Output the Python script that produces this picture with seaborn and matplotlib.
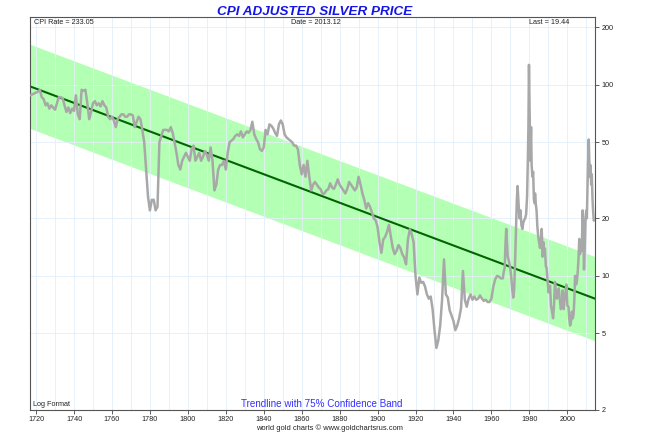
import numpy as np
import pandas as pd
import seaborn as sns
import matplotlib.pyplot as plt
from matplotlib.ticker import FixedLocator, NullLocator, FixedFormatter

# CPI adjusted silver price, yearly readings 1717-1965
annual_years = list(range(1717, 1966))
annual_prices = [
    88, 89, 90,
    91, 92, 94, 86, 84, 78, 80, 75, 78, 76,
    74, 80, 86, 86, 85, 78, 72, 76, 71, 75,
    73, 88, 70, 66, 94, 93, 94, 80, 66, 72,
    80, 82, 78, 80, 77, 82, 78, 76, 68, 66,
    68, 65, 60, 66, 68, 70, 70, 68, 68, 70,
    70, 69, 60, 64, 68, 66, 58, 50, 36, 26,
    22, 25, 25, 22, 23, 50, 54, 58, 58, 58,
    57, 60, 56, 50, 44, 38, 36, 40, 42, 44,
    42, 40, 46, 48, 40, 42, 44, 40, 42, 45,
    43, 40, 47, 40, 28, 30, 36, 38, 38, 40,
    36, 44, 50, 51, 52, 54, 55, 54, 57, 53,
    55, 57, 56, 58, 64, 55, 52, 50, 46, 45,
    47, 58, 55, 62, 61, 59, 56, 54, 62, 65,
    62, 55, 53, 52, 51, 50, 48, 48, 46, 38,
    34, 38, 33, 40, 33, 28, 30, 31, 30, 29,
    28.4, 26.8, 27, 28, 28.4, 30.5, 29, 28.5, 30, 32,
    30, 29, 28, 27, 28.5, 31, 30, 29, 28, 29,
    33, 30, 27, 25, 22.5, 24, 23, 21.5, 20, 19.5,
    18, 15, 13.2, 15.5, 16, 17, 18.5, 16, 14, 13,
    13.5, 14.5, 14, 13, 12.5, 11.5, 15.5, 17.5, 16.5, 15,
    10, 8, 9.8, 9.2, 9.3, 8.8, 8.0, 7.6, 7.8, 6.7,
    5.2, 4.2, 4.6, 5.5, 7.5, 12.2, 8.0, 7.7, 6.6, 6.2,
    5.8, 5.2, 5.5, 6.0, 6.8, 10.6, 7.5, 6.9, 7.6, 8.0,
    7.5, 7.8, 7.5, 7.6, 7.9, 7.6, 7.4, 7.5, 7.3, 7.3,
    7.6, 8.8, 9.6, 10, 9.9, 9.7,
]

# denser readings from 1966 on
recent_years = [
    1966.0, 1966.5, 1967.0, 1967.4, 1967.8, 1968.2, 1968.6, 1969.2, 1969.8, 1970.4,
    1971.0, 1971.5, 1972.0, 1972.5, 1973.0, 1973.4, 1973.8, 1974.1, 1974.4, 1974.8,
    1975.3, 1975.8, 1976.3, 1976.8, 1977.3, 1977.8, 1978.3, 1978.8, 1979.2, 1979.5,
    1979.8, 1980.0, 1980.2, 1980.5, 1980.9, 1981.2, 1981.6, 1982.0, 1982.4, 1982.8,
    1983.0, 1983.4, 1983.8, 1984.2, 1984.7, 1985.1, 1985.6, 1986.0, 1986.5, 1987.0,
    1987.4, 1987.8, 1988.2, 1988.7, 1989.1, 1989.6, 1990.1, 1990.6, 1990.9, 1991.4,
    1992.0, 1992.5, 1993.0, 1993.5, 1994.0, 1994.5, 1995.0, 1995.5, 1996.0, 1996.6,
    1997.1, 1997.6, 1998.1, 1998.5, 1999.0, 1999.5, 2000.0, 2000.6, 2001.0, 2001.5,
    2002.0, 2002.4, 2002.9, 2003.3, 2003.7, 2004.1, 2004.6, 2005.0, 2005.5, 2005.9,
    2006.3, 2006.7, 2007.1, 2007.6, 2008.1, 2008.5, 2008.8, 2009.2, 2009.6, 2010.0,
    2010.3, 2010.6, 2010.9, 2011.3, 2011.6, 2011.9, 2012.2, 2012.6, 2012.9, 2013.3,
    2013.6, 2013.96,
]
recent_prices = [
    9.7, 10.5, 11, 14.5, 17.6, 15, 12.6, 12, 11.2, 10,
    8.5, 7.7, 8.5, 12, 18, 25, 29.5, 26, 23, 20,
    22, 18.5, 17.6, 19, 19.6, 20, 21, 26, 40, 60,
    127, 90, 66, 40, 60, 38, 33, 35, 25, 24,
    27, 23.7, 22, 18.2, 16, 15, 14, 15, 17.6, 12.6,
    15, 13, 13.9, 11.2, 11, 9.5, 8.2, 8.5, 8.9, 7,
    6.5, 6, 7, 9.3, 8.2, 7.6, 8, 8.6, 7.6, 6.7,
    7, 8.4, 6.7, 7.5, 8, 9, 7, 6.9, 6, 5.5,
    5.8, 6.5, 6, 6.3, 7.5, 10, 9, 9.3, 10.5, 12.3,
    15.6, 13, 15, 13.5, 22, 16, 10.8, 14, 20, 22,
    20, 28, 38, 51.7, 40, 33, 38, 30, 34, 25,
    22, 19.44,
]

# trendline end points and 75% band width (multiplicative)
trend_years = [1716.8, 2014.6]
trend_prices = [98.0, 7.6]
band_factor = 1.66

y_ticks = [2, 5, 10, 20, 50, 100, 200]
x_major = list(range(1720, 2001, 20))
x_minor = list(range(1730, 2011, 20))

df = pd.DataFrame({"year": annual_years + recent_years,
                   "price": annual_prices + recent_prices})

sns.set_theme(style="white")
plt.rcParams['font.family'] = ['Liberation Sans', 'DejaVu Sans']

fig = plt.figure(figsize=(6.55, 4.42), dpi=100)
ax = fig.add_axes([30 / 655, 1 - 409.5 / 442, 565 / 655, 392.5 / 442])
ax.set_yscale('log')

trend = np.array(trend_prices)
ax.fill_between(trend_years, trend / band_factor, trend * band_factor,
                color='#b3ffb3', linewidth=0, zorder=0.3)
ax.plot(trend_years, trend, color='#006400', linewidth=1.5, zorder=2)
sns.lineplot(data=df, x="year", y="price", ax=ax, color='#a8a8a8',
             linewidth=1.8, estimator=None, sort=False, zorder=3)

ax.set_xlim(1716.8, 2014.6)
ax.set_ylim(2, 226)

# axes, ticks and grid
ax.yaxis.tick_right()
ax.yaxis.set_major_locator(FixedLocator(y_ticks))
ax.yaxis.set_major_formatter(FixedFormatter([str(t) for t in y_ticks]))
ax.yaxis.set_minor_locator(NullLocator())
ax.xaxis.set_major_locator(FixedLocator(x_major))
ax.xaxis.set_minor_locator(FixedLocator(x_minor))
ax.tick_params(axis='both', which='both', direction='out', length=3, width=0.6,
               color='#444444', labelsize=5.2, labelcolor='#222222', pad=1.5)
ax.tick_params(axis='y', right=True, left=False)
ax.tick_params(axis='x', bottom=True)
ax.set_axisbelow(True)
ax.grid(which='both', axis='x', color='#e3eff8', linewidth=0.6)
ax.grid(which='major', axis='y', color='#e3eff8', linewidth=0.6)
for s in ax.spines.values():
    s.set_color('#555555')
    s.set_linewidth(0.8)
ax.set_xlabel("")
ax.set_ylabel("")

# labels
fig.text(314.7 / 655, 1 - 12 / 442, "CPI ADJUSTED SILVER PRICE", ha='center', va='center',
         fontsize=9.7, fontweight='bold', fontstyle='italic', color='#1515e6')
ax.text(0.007, 0.985, "CPI Rate = 233.05", transform=ax.transAxes, ha='left', va='center',
        fontsize=5.2, color='#222222')
ax.text(0.506, 0.985, "Date = 2013.12", transform=ax.transAxes, ha='center', va='center',
        fontsize=5.2, color='#222222')
ax.text(0.9545, 0.985, "Last = 19.44", transform=ax.transAxes, ha='right', va='center',
        fontsize=5.2, color='#222222')
ax.text(0.005, 0.014, "Log Format", transform=ax.transAxes, ha='left', va='center',
        fontsize=5.2, color='#222222')
ax.text(0.5163, 0.014, "Trendline with 75% Confidence Band", transform=ax.transAxes,
        ha='center', va='center', fontsize=7.1, color='#3030ff')
fig.text(329 / 655, 1 - 427.7 / 442, "world gold charts \u00a9 www.goldchartsrus.com",
         ha='center', va='center', fontsize=5.4, color='#222222')

fig.savefig("out.png", dpi=100)
